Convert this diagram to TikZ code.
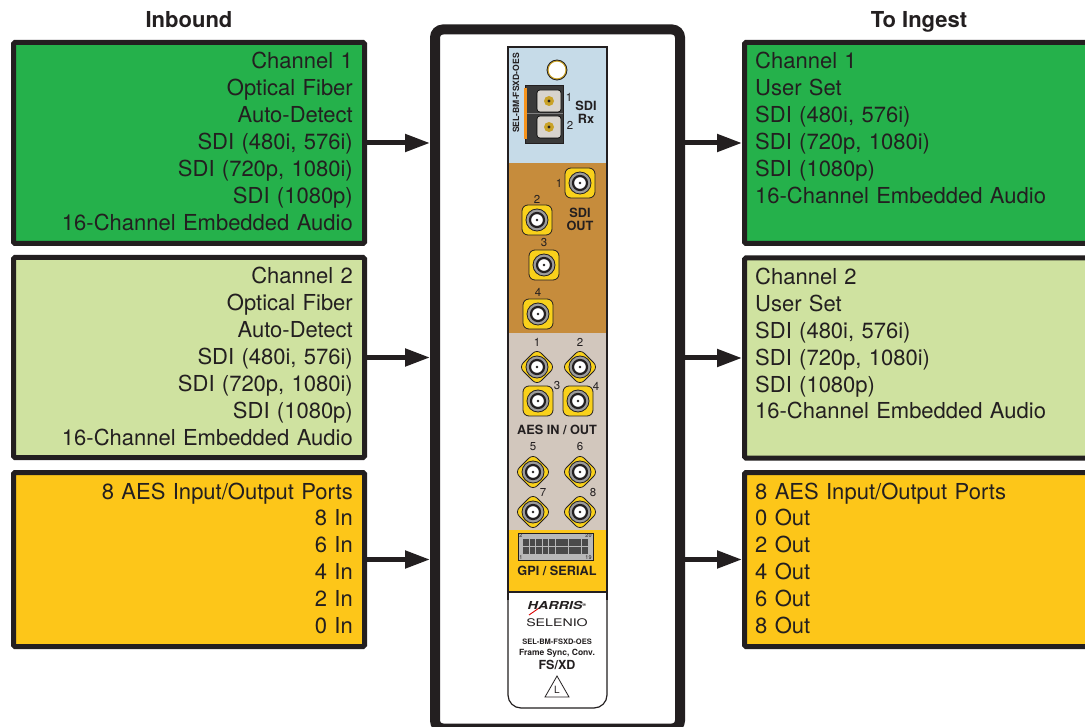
\documentclass[tikz,border=0pt]{standalone}
\usepackage{fontspec}
\setmainfont{TeX Gyre Heros}
\usetikzlibrary{arrows.meta,calc}

\definecolor{ink}{HTML}{231F20}
\definecolor{chgreen}{HTML}{25B14B}
\definecolor{chlight}{HTML}{CFE2A0}
\definecolor{aesyellow}{HTML}{FDC619}
\definecolor{rxblue}{HTML}{C6DBE8}
\definecolor{outbrown}{HTML}{C68C3C}
\definecolor{aesgrey}{HTML}{D2C7BD}
\definecolor{bncyellow}{HTML}{F9D11B}
\definecolor{bncgrey}{HTML}{9C9C9C}
\definecolor{portgold}{HTML}{C9A227}
\definecolor{portgrey}{HTML}{D8D4CE}
\definecolor{fiberbody}{HTML}{3A3A3A}
\definecolor{fiberorange}{HTML}{F7941D}
\definecolor{dbgrey}{HTML}{B8B8B8}
\definecolor{dbcell}{HTML}{4A4A4A}

\tikzset{
    chanbox/.style={draw=ink, line width=5pt, rounded corners=1.5pt, inner sep=0pt},
    intext/.style={anchor=base east, text width=320pt, align=right, inner sep=0pt, text=ink, font=\fontsize{22}{26.9}\selectfont},
    outtext/.style={anchor=base west, text width=320pt, align=left, inner sep=0pt, text=ink, font=\fontsize{22}{26.9}\selectfont},
    head/.style={anchor=base, inner sep=0pt, text=ink, font=\bfseries\fontsize{22}{26}\selectfont},
    feed/.style={draw=ink, line width=5pt, -{Triangle[length=25pt,width=17pt]}},
    bnc/.style={fill=bncyellow, draw=ink, line width=0.8pt, rounded corners=6pt},
    pinlabel/.style={inner sep=0pt, text=ink, font=\fontsize{11.5}{12}\selectfont},
    tag/.style={inner sep=0pt, text=ink, font=\bfseries\fontsize{12.7}{13}\selectfont},
}

\begin{document}
\begin{tikzpicture}[x=1pt, y=-1pt]
    \useasboundingbox (0,0) rectangle (1085,727);
    \clip (0,0) rectangle (1085,727);
    \fill[white] (0,0) rectangle (1085,727);

    % Headings
    \node[head] (inhead) at (189,28) {Inbound};
    \node[head] (outhead) at (919,28) {To Ingest};

    % Inbound boxes
    \node[chanbox, fill=chgreen, minimum width=351pt, minimum height=201pt] (in1) at (189,143) {};
    \node[chanbox, fill=chlight, minimum width=351pt, minimum height=200pt] (in2) at (189,357.5) {};
    \node[chanbox, fill=aesyellow, minimum width=351pt, minimum height=174pt] (in3) at (189,559.5) {};

    \node[intext] (in1txt) at ([xshift=-14pt,yshift=-29pt]in1.north east)
        {Channel 1\\Optical Fiber\\Auto-Detect\\SDI (480i, 576i)\\SDI (720p, 1080i)\\SDI (1080p)\\16-Channel Embedded Audio};
    \node[intext] (in2txt) at ([xshift=-14pt,yshift=-29pt]in2.north east)
        {Channel 2\\Optical Fiber\\Auto-Detect\\SDI (480i, 576i)\\SDI (720p, 1080i)\\SDI (1080p)\\16-Channel Embedded Audio};
    \node[intext] (in3txt) at ([xshift=-14pt,yshift=-29pt]in3.north east)
        {8 AES Input/Output Ports\\8 In\\6 In\\4 In\\2 In\\0 In};

    % To ingest boxes (run off the right edge)
    \node[chanbox, fill=chgreen, minimum width=356pt, minimum height=201pt] (out1) at (922.5,143) {};
    \node[chanbox, fill=chlight, minimum width=356pt, minimum height=200pt] (out2) at (922.5,358) {};
    \node[chanbox, fill=aesyellow, minimum width=356pt, minimum height=174pt] (out3) at (922.5,559.5) {};

    \node[outtext] (out1txt) at ([xshift=13pt,yshift=-29pt]out1.north west)
        {Channel 1\\User Set\\SDI (480i, 576i)\\SDI (720p, 1080i)\\SDI (1080p)\\16-Channel Embedded Audio};
    \node[outtext] (out2txt) at ([xshift=13pt,yshift=-29pt]out2.north west)
        {Channel 2\\User Set\\SDI (480i, 576i)\\SDI (720p, 1080i)\\SDI (1080p)\\16-Channel Embedded Audio};
    \node[outtext] (out3txt) at ([xshift=13pt,yshift=-29pt]out3.north west)
        {8 AES Input/Output Ports\\0 Out\\2 Out\\4 Out\\6 Out\\8 Out};

    % Frame round the card
    \node[draw=ink, line width=10pt, rounded corners=8pt, minimum width=245pt, minimum height=699pt] (card) at (557.5,379) {};

    % Arrows in and out
    \foreach \n in {1,2,3} {
        \draw[feed] (in\n.east) -- (in\n.east -| card.west);
        \draw[feed] (out\n.west -| card.east) -- (out\n.west);
    }

    % Card panel sections
    \draw[ink, line width=1.2pt, fill=white, rounded corners=13pt] (508,560) rectangle (607,708);
    \fill[rxblue] (508,47) rectangle (607,163);
    \fill[outbrown] (508,163) rectangle (607,333);
    \fill[aesgrey] (508,333) rectangle (607,530);
    \fill[aesyellow] (508,530) rectangle (607,592);
    \draw[ink, line width=1.2pt] (508,600) -- (508,47) -- (607,47) -- (607,600);
    \draw[ink, line width=1.2pt] (508,592) -- (607,592);

    % SDI Rx fibre port
    \draw[ink, line width=0.8pt, fill=portgold] (557,70) circle (10pt);
    \fill[white] (557,70) circle (8.3pt);
    \draw[ink, line width=0.8pt, fill=fiberbody] (525,85) rectangle (563,143);
    \draw[gray, line width=1pt] (527,114) -- (563,114);
    \fill[fiberorange] (524,88) rectangle (527,139);
    \foreach \y in {101,127} {
        \draw[black, line width=0.6pt, fill=portgrey, rounded corners=3pt] (537,{\y-11}) rectangle (561,{\y+11});
        \fill[portgold] (549,\y) circle (5pt);
        \fill[ink] (549,\y) circle (1.6pt);
    }
    \node[rotate=90, inner sep=0pt, text=ink, font=\bfseries\fontsize{8.6}{9}\selectfont] (partid) at (516,93) {SEL-BM-FSXD-OES};
    \node[pinlabel] (rx1) at (569,97) {1};
    \node[pinlabel] (rx2) at (570,125) {2};
    \node[tag] (rxsdi) at (586,106) {SDI};
    \node[tag] (rxrx) at (586,119) {Rx};

    % SDI out BNCs
    \foreach \x/\y/\n in {580/183/1, 537/220/2, 544/265/3, 538/314/4} {
        \draw[bnc] ({\x-15},{\y-15}) rectangle ({\x+15},{\y+15});
        \draw[ink, line width=0.8pt, fill=bncgrey] (\x,\y) circle (11pt);
        \draw[ink, line width=2.2pt, fill=white] (\x,\y) circle (7pt);
        \fill[ink] (\x,\y) circle (1.4pt);
    }
    \node[pinlabel] (sdi1) at (559,183) {1};
    \node[pinlabel] (sdi2) at (537,199) {2};
    \node[pinlabel] (sdi3) at (544,243) {3};
    \node[pinlabel] (sdi4) at (538,292) {4};
    \node[tag] (outsdi) at (580,213) {SDI};
    \node[tag] (outout) at (580,226) {OUT};

    % AES BNCs
    \foreach \x/\y in {538/401, 578/401} {
        \draw[bnc] ({\x-15},{\y-15}) rectangle ({\x+15},{\y+15});
        \draw[ink, line width=0.8pt, fill=bncgrey] (\x,\y) circle (11pt);
        \draw[ink, line width=2.2pt, fill=white] (\x,\y) circle (7pt);
        \fill[ink] (\x,\y) circle (1.4pt);
    }
    \foreach \x/\y in {537/367, 580/367, 533/472, 580/472, 533/512, 580/512} {
        \draw[bnc] ({\x-18},\y) -- (\x,{\y-18}) -- ({\x+18},\y) -- (\x,{\y+18}) -- cycle;
        \draw[ink, line width=0.8pt, fill=bncgrey] (\x,\y) circle (11pt);
        \draw[ink, line width=2.2pt, fill=white] (\x,\y) circle (7pt);
        \fill[ink] (\x,\y) circle (1.4pt);
    }
    \node[pinlabel] (aes1) at (537,342) {1};
    \node[pinlabel] (aes2) at (580,342) {2};
    \node[pinlabel] (aes3) at (557,386) {3};
    \node[pinlabel] (aes4) at (596,386) {4};
    \node[pinlabel] (aes5) at (533,447) {5};
    \node[pinlabel] (aes6) at (580,447) {6};
    \node[pinlabel] (aes7) at (543,493) {7};
    \node[pinlabel] (aes8) at (593,493) {8};
    \node[tag] (aestag) at (557,430) {AES IN / OUT};

    % GPI connector
    \draw[ink, line width=0.8pt, fill=dbgrey] (518,533) rectangle (593,560);
    \foreach \i in {0,...,9} {
        \foreach \j in {0,1} {
            \fill[dbcell] ({523+\i*6.55},{539+\j*7.6}) rectangle +(5.8,6.9);
        }
    }
    \node[inner sep=0pt, text=ink, font=\fontsize{5.5}{6}\selectfont] (db2) at (521,536) {2};
    \node[inner sep=0pt, text=ink, font=\fontsize{5.5}{6}\selectfont] (db20) at (588.5,536) {20};
    \node[inner sep=0pt, text=ink, font=\fontsize{5.5}{6}\selectfont] (db1) at (521,557.5) {1};
    \node[inner sep=0pt, text=ink, font=\fontsize{5.5}{6}\selectfont] (db19) at (588.5,557.5) {19};
    \node[tag] (gpitag) at (557,571) {GPI / SERIAL};

    % Maker plate
    \draw[red!85!black, line width=0.9pt] (529,615) -- (542,606);
    \node[xscale=1.3, inner sep=0pt, text=ink, font=\bfseries\itshape\fontsize{11}{12}\selectfont] (harris) at (557,605) {HARRIS\raisebox{3pt}{\fontsize{4}{4}\selectfont ®}};
    \node[xscale=1.35, inner sep=0pt, text=ink, font=\fontsize{10.5}{11}\selectfont] (selenio) at (557,623) {SELENIO};
    \node[inner sep=0pt, text=ink, font=\bfseries\fontsize{7.5}{8}\selectfont] (partid2) at (557,642) {SEL-BM-FSXD-OES};
    \node[inner sep=0pt, text=ink, font=\bfseries\fontsize{8.5}{9}\selectfont] (sync) at (557,653) {Frame Sync, Conv.};
    \node[inner sep=0pt, text=ink, font=\bfseries\fontsize{12.5}{13}\selectfont] (fsxd) at (557,665) {FS/XD};
    \draw[ink, line width=0.8pt] (557,676) -- (569,697) -- (545,697) -- cycle;
    \node[inner sep=0pt, text=ink, font=\fontsize{10}{10}\selectfont] (ltag) at (557,690) {L};
\end{tikzpicture}
\end{document}
